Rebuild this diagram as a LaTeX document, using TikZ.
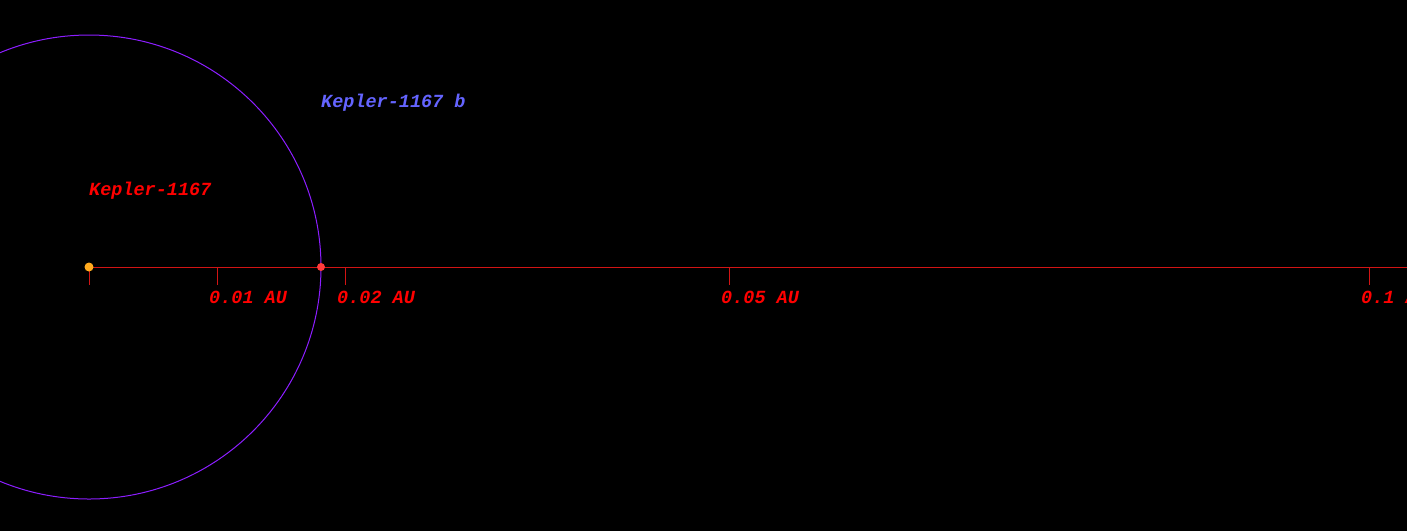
\documentclass[tikz,border=0pt]{standalone}
\usepackage{fontspec}
\newfontfamily\lmono{Liberation Mono}
\definecolor{axiscol}{RGB}{210,20,20}
\definecolor{orbitcol}{RGB}{140,30,255}
\definecolor{starcol}{RGB}{255,170,30}
\definecolor{planetcol}{RGB}{255,60,60}
\definecolor{pnamecol}{RGB}{100,100,255}
\begin{document}
\begin{tikzpicture}[x=1pt,y=-1pt,
  lbl/.style={font=\lmono\bfseries\itshape\fontsize{18.5}{20}\selectfont, anchor=base west, inner sep=0pt},
  axisline/.style={draw=axiscol, line width=1pt},
  orbit/.style={draw=orbitcol, line width=1pt}]
\useasboundingbox (0,0) rectangle (1407,531);
\fill[black] (0,0) rectangle (1407,531);
\clip (0,0) rectangle (1407,531);
\coordinate (star) at (89,267);
\coordinate (axend) at (1407,267);
\foreach \n/\x in {t0/89,t1/217,t2/345,t5/729,t10/1369}{
  \coordinate (\n) at (\x,267);
  \coordinate (\n b) at (\x,285);
  \draw[axisline] (\n) -- (\n b);
}
\draw[axisline] (star) -- (axend);
\draw[orbit] (star) circle (232);
\fill[starcol] (star) circle (4.5);
\node[fill=planetcol, circle, inner sep=0pt, minimum size=8pt] (planet) at (321,267) {};
\node[lbl, text=red] (l1) at (209,303) {0.01 AU};
\node[lbl, text=red] (l2) at (337,303) {0.02 AU};
\node[lbl, text=red] (l5) at (721,303) {0.05 AU};
\node[lbl, text=red] (l10) at (1361,303) {0.1 AU};
\node[lbl, text=red] (sname) at (89,195) {Kepler-1167};
\node[lbl, text=pnamecol] (pname) at (321,107.5) {Kepler-1167 b};
\end{tikzpicture}
\end{document}
